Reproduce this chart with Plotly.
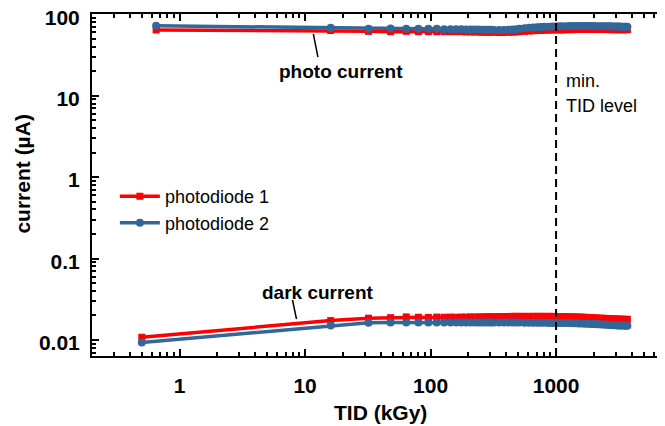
import plotly.graph_objects as go

# ---------------- data ----------------
tid_photo = [0.65, 16, 32, 48, 64, 80, 96, 112, 128, 144, 160, 176, 192, 208, 224, 240,
             256, 272, 288, 304, 320, 352, 384, 416, 448, 480, 512, 560, 608, 656, 704,
             752, 800, 864, 928, 992, 1056, 1120, 1200, 1280, 1360, 1440, 1520, 1600,
             1700, 1800, 1900, 2000, 2100, 2200, 2300, 2400, 2500, 2600, 2700, 2800,
             2900, 3000, 3100, 3200, 3300, 3400, 3500, 3600, 3700]
tid_dark = [0.5] + tid_photo[1:]

photo_pd1 = [64, 63, 61.5, 61, 61.5, 61, 61, 61, 61, 61, 61, 61, 60.5, 60.5, 60.5, 60.5,
             60, 60, 60, 60, 60, 59.5, 59.5, 60, 60, 60.5, 61, 61.5, 62, 62.5, 63,
             63, 63.5, 63.5, 64, 64, 64, 64, 64.5, 64.5, 64.5, 65, 65, 65, 65, 65, 65,
             65, 65, 65, 65, 65, 65, 65, 64.5, 64.5, 64.5, 64.5, 64.5, 64.5, 64.5, 64.5,
             64.5, 64.5, 64.5]
photo_pd2 = [72, 68, 66, 66.5, 66, 66, 66, 66, 65.5, 65.5, 65.5, 65.5, 65, 65, 65, 65,
             64.5, 64.5, 64.5, 64.5, 64, 64, 64, 64.5, 65, 65.5, 66, 67, 68, 68.5, 69, 69.5,
             70, 70, 70.5, 70.5, 71, 71, 71, 71.5, 71.5, 71.5, 71.5, 71.5, 71.5, 71.5,
             71.5, 71.5, 71, 71, 71, 71, 71, 71, 71, 70.5, 70.5, 70.5, 70.5, 70.5, 70,
             70, 70, 70, 70]

dark_pd1 = [0.0108, 0.0173, 0.0185, 0.0188, 0.0192, 0.0190, 0.0189, 0.0191, 0.0190, 0.0191,
            0.0190, 0.0191, 0.0191, 0.0192, 0.0191, 0.0192, 0.0192, 0.0192, 0.0193, 0.0193,
            0.0193, 0.0194, 0.0194, 0.0194, 0.0195, 0.0195, 0.0195, 0.0195, 0.0195, 0.0195,
            0.0195, 0.0195, 0.0195, 0.0195, 0.0195, 0.0194, 0.0194, 0.0194, 0.0193, 0.0193,
            0.0192, 0.0192, 0.0191, 0.0191, 0.0190, 0.0189, 0.0188, 0.0187, 0.0186, 0.0185,
            0.0185, 0.0184, 0.0184, 0.0183, 0.0182, 0.0182, 0.0181, 0.0181, 0.0180, 0.0180,
            0.0180, 0.0179, 0.0179, 0.0179, 0.0179]
dark_pd2 = [0.0093, 0.0151, 0.0163, 0.0164, 0.0164, 0.0164, 0.0164, 0.0164, 0.0164, 0.0164,
            0.0164, 0.0164, 0.0164, 0.0164, 0.0164, 0.0164, 0.0164, 0.0164, 0.0164, 0.0164,
            0.0164, 0.0164, 0.0164, 0.0164, 0.0164, 0.0164, 0.0164, 0.0163, 0.0163, 0.0163,
            0.0163, 0.0163, 0.0163, 0.0162, 0.0162, 0.0162, 0.0162, 0.0161, 0.0161, 0.0161,
            0.0160, 0.0160, 0.0159, 0.0159, 0.0158, 0.0158, 0.0157, 0.0157, 0.0156, 0.0156,
            0.0155, 0.0155, 0.0154, 0.0154, 0.0153, 0.0153, 0.0152, 0.0152, 0.0151, 0.0151,
            0.0150, 0.0150, 0.0150, 0.0149, 0.0149]

series_names = ["photodiode 1", "photodiode 2"]
x_tickvals = [1, 10, 100, 1000]
x_ticktext = ["1", "10", "100", "1000"]
y_tickvals = [0.01, 0.1, 1, 10, 100]
y_ticktext = ["0.01", "0.1", "1", "10", "100"]
min_tid_level = 1000

# ---------------- styling ----------------
RED = "#FF0000"
BLUE = "#336699"
FONT = "Liberation Sans, Arial, sans-serif"

fig = go.Figure()

for name, color, symbol, msize, photo, dark in [
    (series_names[0], RED, "square", 7, photo_pd1, dark_pd1),
    (series_names[1], BLUE, "circle", 8, photo_pd2, dark_pd2),
]:
    fig.add_trace(go.Scatter(x=tid_photo, y=photo, mode="lines+markers", name=name,
                             legendgroup=name, showlegend=True,
                             line=dict(color=color, width=3.5),
                             marker=dict(symbol=symbol, size=msize, color=color)))
    fig.add_trace(go.Scatter(x=tid_dark, y=dark, mode="lines+markers", name=name,
                             legendgroup=name, showlegend=False,
                             line=dict(color=color, width=3.5),
                             marker=dict(symbol=symbol, size=msize, color=color)))

axis_common = dict(type="log", tickmode="linear", tick0=0, dtick=1, exponentformat="none",
                   ticks="inside", ticklen=7, tickwidth=2, tickcolor="black",
                   showline=True, linewidth=2, linecolor="black", showgrid=False,
                   zeroline=False, ticklabeloverflow="allow", automargin=False,
                   tickfont=dict(family=FONT, size=21, color="black", weight="bold"),
                   minor=dict(ticks="inside", ticklen=4, tickwidth=1.5, tickcolor="black",
                              showgrid=False))

fig.update_xaxes(range=[-0.698, 3.86], mirror="ticks", ticklabelstandoff=10,
                 **axis_common)
fig.update_yaxes(range=[-2.197, 2.002], mirror=False, ticklabelstandoff=6,
                 ticklabelshift=3, **axis_common)

# vertical dashed min. TID level line
fig.add_shape(type="line", xref="x", yref="paper", x0=min_tid_level, x1=min_tid_level,
              y0=0, y1=1, line=dict(color="black", width=2, dash="8px,5px"))
# right frame (dotted grey, as in the reference)
fig.add_shape(type="line", xref="paper", yref="paper", x0=1, x1=1, y0=0, y1=1,
              line=dict(color="#aaaaaa", width=1.5, dash="dot"))
# pointer lines
fig.add_shape(type="line", xref="paper", yref="paper", x0=0.387, y0=0.9415, x1=0.395,
              y1=0.874, line=dict(color="black", width=1.5))
fig.add_shape(type="line", xref="paper", yref="paper", x0=0.3505, y0=0.1637, x1=0.3575,
              y1=0.108, line=dict(color="black", width=1.5))

ann_bold = dict(family=FONT, size=19, color="black", weight="bold")
ann_reg = dict(family=FONT, size=18, color="black")
ann_base = dict(xref="paper", yref="paper", showarrow=False, xanchor="center",
                yanchor="middle")
fig.add_annotation(text="photo current", x=0.435, y=0.833, font=ann_bold, **ann_base)
fig.add_annotation(text="dark current", x=0.395, y=0.187, font=ann_bold, **ann_base)
fig.add_annotation(text="min.", x=0.825, y=0.804, font=ann_reg,
                   **{**ann_base, "xanchor": "left"})
fig.add_annotation(text="TID level", x=0.825, y=0.731, font=ann_reg,
                   **{**ann_base, "xanchor": "left"})
fig.add_annotation(text="current (µA)", x=-0.1215, y=0.532, textangle=-90,
                   font=dict(family=FONT, size=21, color="black", weight="bold"),
                   **ann_base)
fig.add_annotation(text="TID (kGy)", x=0.505, y=-0.164,
                   font=dict(family=FONT, size=21, color="black", weight="bold"),
                   **ann_base)

# the page adds an 8px body margin, so the figure is 8px smaller and shifted
fig.update_layout(
    width=657, height=418,
    margin=dict(l=84, r=1, t=6, b=70, autoexpand=False),
    paper_bgcolor="white", plot_bgcolor="white",
    legend=dict(x=0.04, y=0.52, xanchor="left", yanchor="top",
                bgcolor="rgba(0,0,0,0)", font=dict(family=FONT, size=18, color="black"),
                itemwidth=40, tracegroupgap=0),
    showlegend=True,
)

fig.write_html("out.html")
